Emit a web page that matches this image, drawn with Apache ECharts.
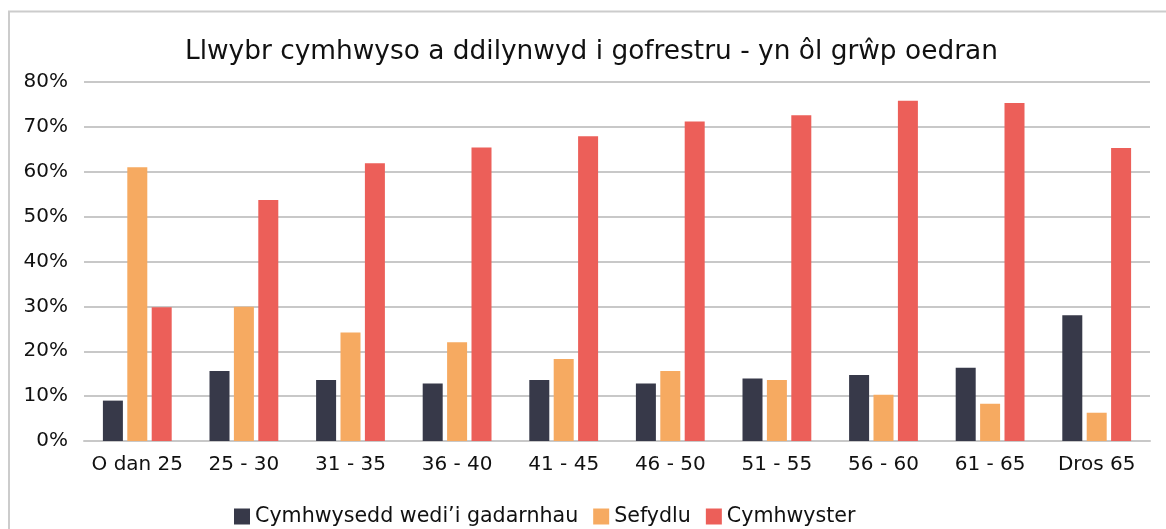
<!DOCTYPE html>
<html>
<head>
<meta charset="utf-8">
<script src="https://cdn.jsdelivr.net/npm/echarts@6/dist/echarts.min.js"></script>
<style>
  html, body { margin: 0; padding: 0; background: #fff; }
  #chart { width: 1166px; height: 529px; }
</style>
</head>
<body>
<div id="chart"></div>
<script>
// grupiau oedran
var categories = ['O dan 25', '25 - 30', '31 - 35', '36 - 40', '41 - 45', '46 - 50', '51 - 55', '56 - 60', '61 - 65', 'Dros 65'];
var seriesNames = ['Cymhwysedd wedi\u2019i gadarnhau', 'Sefydlu', 'Cymhwyster'];

// gwerthoedd mewn %
var cadarnhau = [9.0, 15.6, 13.6, 12.8, 13.6, 12.8, 13.9, 14.7, 16.3, 28.0];
var sefydlu = [61.0, 29.9, 24.2, 22.0, 18.3, 15.6, 13.6, 10.3, 8.3, 6.3];
var cymhwyster = [29.8, 53.7, 61.9, 65.4, 67.9, 71.2, 72.6, 75.8, 75.3, 65.3];

var colors = ['#373949', '#F6AA61', '#EC5F59'];
var fontFam = '"DejaVu Sans", sans-serif';

var chart = echarts.init(document.getElementById('chart'));

var option = {
  animation: false,
  color: colors,
  title: {
    text: 'Llwybr cymhwyso a ddilynwyd i gofrestru - yn ôl grŵp oedran',
    left: 180,
    top: 34,
    textStyle: { fontFamily: fontFam, fontSize: 26.4, fontWeight: 'normal', color: '#111' }
  },
  graphic: [{
    // ffin y siart (wedi'i docio ar y dde a'r gwaelod)
    type: 'rect',
    silent: true,
    shape: { x: 9, y: 11.5, width: 1300, height: 700 },
    style: { fill: 'none', stroke: '#cccccc', lineWidth: 2 }
  }],
  legend: {
    left: 229,
    top: 501,
    itemWidth: 16,
    itemHeight: 16,
    itemGap: 15,
    icon: 'rect',
    textStyle: { fontFamily: fontFam, fontSize: 20.6, color: '#111' },
    data: seriesNames
  },
  grid: { left: 84, right: 16, top: 82, bottom: 88, containLabel: false },
  xAxis: {
    type: 'category',
    data: categories,
    axisLine: { lineStyle: { color: '#c8c8c8', width: 2 } },
    axisTick: { show: false },
    axisLabel: { fontFamily: fontFam, fontSize: 20, color: '#111', margin: 14, interval: 0 }
  },
  yAxis: {
    type: 'value',
    min: 0,
    max: 80,
    interval: 10,
    axisLine: { show: false },
    axisTick: { show: false },
    splitLine: { lineStyle: { color: '#c8c8c8', width: 2 } },
    axisLabel: { fontFamily: fontFam, fontSize: 20, color: '#111', margin: 16, formatter: '{value}%' }
  },
  series: [
    { name: seriesNames[0], type: 'bar', data: cadarnhau, barWidth: 20, barGap: '22%' },
    { name: seriesNames[1], type: 'bar', data: sefydlu, barWidth: 20, barGap: '22%' },
    { name: seriesNames[2], type: 'bar', data: cymhwyster, barWidth: 20, barGap: '22%' }
  ]
};

chart.setOption(option);
</script>
</body>
</html>
